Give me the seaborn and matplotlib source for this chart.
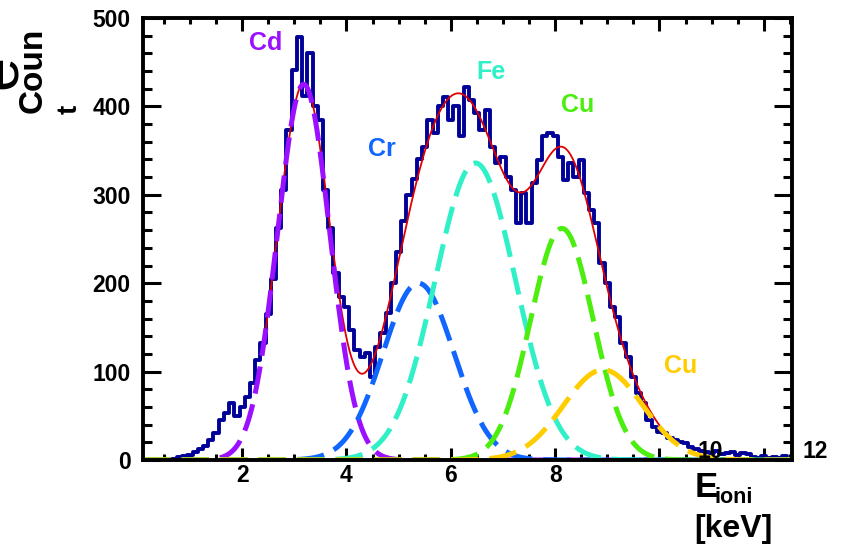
import numpy as np
import pandas as pd
import matplotlib
matplotlib.use("Agg")
import matplotlib.pyplot as plt
from matplotlib.ticker import MultipleLocator
import seaborn as sns

sns.set_style("ticks")
plt.rcParams["font.family"] = ["Liberation Sans", "DejaVu Sans"]
plt.rcParams["font.weight"] = "bold"
plt.rcParams["text.color"] = "black"
plt.rcParams["axes.edgecolor"] = "black"
plt.rcParams["xtick.color"] = "black"
plt.rcParams["ytick.color"] = "black"

# histogram: bin centres 0.5 .. 12.4 keV, width 0.1 keV
bin_width = 0.1
bin_centers = np.round(np.arange(0.5, 12.45, bin_width), 2)
counts = [
    0, 0, 1, 3, 4, 6, 9, 13, 16, 23,
    31, 45, 53, 64, 50, 60, 71, 87, 113, 132,
    165, 205, 262, 305, 373, 441, 478, 412, 460, 400,
    385, 305, 262, 212, 184, 173, 147, 124, 117, 121,
    94, 128, 144, 166, 200, 235, 270, 300, 318, 340,
    354, 385, 370, 400, 411, 385, 400, 366, 422, 407,
    392, 373, 396, 354, 336, 343, 320, 305, 268, 302,
    268, 313, 339, 366, 370, 366, 343, 317, 336, 320,
    339, 302, 283, 268, 223, 200, 173, 162, 132, 117,
    94, 76, 64, 45, 37, 32, 30, 25, 23, 20,
    19, 15, 12, 10, 9, 8, 10, 7, 8, 9,
    6, 8, 7, 3, 2, 4, 2, 3, 2, 5,
]

# fitted gaussian components
lines = ["Cd", "Cr", "Fe", "Cu", "Cu"]
means = [3.18, 5.38, 6.47, 8.13, 8.92]
sigmas = [0.50, 0.68, 0.77, 0.60, 0.76]
amps = [425, 200, 336, 262, 102]
colors = ["#9a10ff", "#1166ff", "#30f0c8", "#4cee10", "#ffcc00"]
label_x = [2.46, 4.67, 6.77, 8.44, 10.41]
label_y = [472, 352, 439, 402, 106]

fit_range = (2.4, 10.1)
xmin, xmax = 0.1, 12.54

W, H = 842, 545
fig = plt.figure(figsize=(W / 100, H / 100), dpi=100)
ax = fig.add_axes([143 / W, 1 - 460 / H, (792 - 143) / W, (460 - 18) / H])

hist_df = pd.DataFrame({"E": bin_centers, "n": counts})
sns.histplot(data=hist_df, x="E", weights="n", binwidth=bin_width,
             binrange=(0.45, 12.45), element="step",
             fill=False, color="#000099", linewidth=2.8, ax=ax)

xs = np.linspace(xmin, xmax, 800)
comps = [a * np.exp(-0.5 * ((xs - m) / s) ** 2) for m, s, a in zip(means, sigmas, amps)]
total = np.sum(comps, axis=0)
mask = (xs >= fit_range[0]) & (xs <= fit_range[1])
sns.lineplot(x=xs[mask], y=total[mask], color="#e00000", linewidth=1.3, ax=ax)

for comp, c in zip(comps, colors):
    sns.lineplot(x=xs, y=comp, color=c, linewidth=3.6, linestyle=(0, (5.5, 2.2)), ax=ax)

for name, lx, ly, c in zip(lines, label_x, label_y, colors):
    ax.text(lx, ly, name, color=c, fontsize=18, fontweight="bold", ha="center", va="center")

ax.set_xlim(xmin, xmax)
ax.set_ylim(0, 500)
ax.set_xlabel("")
ax.set_ylabel("")
ax.xaxis.set_major_locator(MultipleLocator(2))
ax.xaxis.set_minor_locator(MultipleLocator(0.5))
ax.yaxis.set_major_locator(MultipleLocator(100))
ax.yaxis.set_minor_locator(MultipleLocator(20))
ax.set_xticks([2, 4, 6, 8, 10, 12])
ax.set_xticklabels(["2", "4", "6", "8", "", ""])
ax.tick_params(axis="both", which="both", direction="in", top=True, right=True,
               width=2.2, labelsize=16.5)
ax.tick_params(axis="x", which="major", length=9, pad=3)
ax.tick_params(axis="x", which="minor", length=4.5)
ax.tick_params(axis="y", which="major", length=13, pad=9)
ax.tick_params(axis="y", which="minor", length=6.5)
for lab in ax.get_xticklabels() + ax.get_yticklabels():
    lab.set_fontweight("bold")
for sp in ax.spines.values():
    sp.set_linewidth(2.8)
    sp.set_visible(True)

def px(x, y):
    return x / W, 1 - y / H

# misplaced tick labels as in the original
fig.text(*px(710, 451), "10", fontsize=16.5, fontweight="bold", ha="center", va="center")
fig.text(*px(815, 451), "12", fontsize=16.5, fontweight="bold", ha="center", va="center")

# axis titles
fig.text(*px(695, 497), "E", fontsize=25, fontweight="bold", ha="left", va="baseline")
fig.text(*px(715, 503), "ioni", fontsize=15.5, fontweight="bold", ha="left", va="baseline")
fig.text(*px(694, 537), "[keV]", fontsize=23, fontweight="bold", ha="left", va="baseline")
fig.text(*px(33, 70), "Coun", fontsize=24, fontweight="bold", rotation=90, ha="center", va="center")
fig.text(*px(70, 109), "t", fontsize=20, fontweight="bold", rotation=90, ha="center", va="center")
fig.text(*px(1, 72), "e", fontsize=44, fontweight="normal", rotation=90, ha="center", va="center")

fig.savefig("out.png", dpi=100)
